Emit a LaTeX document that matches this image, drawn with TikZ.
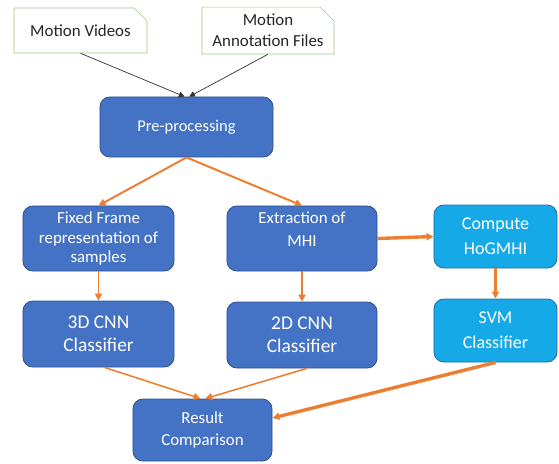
\documentclass[tikz,border=0pt]{standalone}
\usepackage{fontspec}
\setmainfont{Carlito}
\usepackage{xcolor}
\usetikzlibrary{arrows.meta,positioning,shapes.misc}

\definecolor{procblue}{HTML}{4472C4}
\definecolor{procedge}{HTML}{2F528F}
\definecolor{hogblue}{HTML}{16A9E8}
\definecolor{hogedge}{HTML}{1F6FA8}
\definecolor{flowor}{HTML}{ED7D31}
\definecolor{inputgreen}{HTML}{9DCB80}

\begin{document}
\begin{tikzpicture}[x=0.025cm,y=-0.025cm,>={Triangle[length=5pt,width=5pt]}]
  \tikzstyle{input}=[draw=inputgreen,fill=white,chamfered rectangle,chamfered rectangle corners=north east,chamfered rectangle xsep=5pt,chamfered rectangle ysep=5pt,align=center,text=black!85,font=\fontsize{12}{15}\selectfont,minimum width=3.325cm,minimum height=1.125cm,inner sep=0pt]
  \tikzstyle{proc}=[draw=procedge,fill=procblue,rounded corners=7pt,align=center,text=white,font=\fontsize{12}{14.2}\selectfont,minimum width=3.775cm,minimum height=1.625cm,line width=0.6pt]
  \tikzstyle{hog}=[proc,draw=hogedge,fill=hogblue,font=\fontsize{12.8}{18}\selectfont,minimum width=3.075cm,minimum height=1.575cm]
  \tikzstyle{flow}=[draw=flowor,line width=1.4pt]
  \useasboundingbox (0,0) rectangle (559,463);

  \node[input] (vid) at (80.5,30.5) {Motion Videos};
  \node[input,minimum width=3.3cm] (ann) at (268,30.5) {Motion\\Annotation Files};
  \node[proc,minimum width=4.325cm,minimum height=1.5cm,font=\fontsize{11.7}{14}\selectfont] (pre) at (186.5,127) {Pre-processing};
  \node[proc] (fix) at (98.5,238.5) {Fixed Frame\\representation of\\samples};
  \node[proc,minimum width=3.75cm,font=\fontsize{12}{16}\selectfont] (ext) at (302,238.5) {Extraction of\\MHI\\[-3pt]\mbox{}};
  \node[hog] (comp) at (495.5,236.5) {Compute\\HoGMHI};
  \node[proc,font=\fontsize{13.8}{16.5}\selectfont,minimum height=1.65cm] (d3) at (98.5,334) {3D CNN\\Classifier};
  \node[proc,minimum width=3.75cm,font=\fontsize{13.8}{16.5}\selectfont,minimum height=1.65cm] (d2) at (302,335) {2D CNN\\Classifier};
  \node[hog] (svm) at (495.5,330.5) {SVM\\Classifier};
  \node[proc,minimum width=3.475cm,minimum height=1.55cm,font=\fontsize{12}{15}\selectfont] (res) at (202.5,430) {Result\\Comparison};

  % inputs
  \draw[->,black!80,line width=0.5pt,>={Triangle[length=4pt,width=4pt]}] (vid.south) -- ([xshift=-0.05cm]pre.north);
  \draw[->,black!80,line width=0.5pt,>={Triangle[length=4pt,width=4pt]}] (ann.south) -- ([xshift=0.07cm]pre.north);

  \foreach \a/\b in {pre/fix,pre/ext,fix/d3,ext/d2}
    \draw[->,flow] (\a.south) -- (\b.north);
  \draw[->,flow,line width=2.2pt] (comp.south) -- (svm.north);
  \draw[->,flow,line width=2.4pt] (ext.east) -- (comp.west);
  \draw[->,flow,line width=1.1pt] ([xshift=0.15cm]d3.south) -- ([xshift=-0.05cm]res.north);
  \draw[->,flow,line width=1.1pt] ([xshift=0.12cm]d2.south) -- ([xshift=0.07cm]res.north);
  \draw[->,flow,line width=2.4pt] (svm.south) -- ([yshift=0.3cm]res.east);
\end{tikzpicture}
\end{document}
